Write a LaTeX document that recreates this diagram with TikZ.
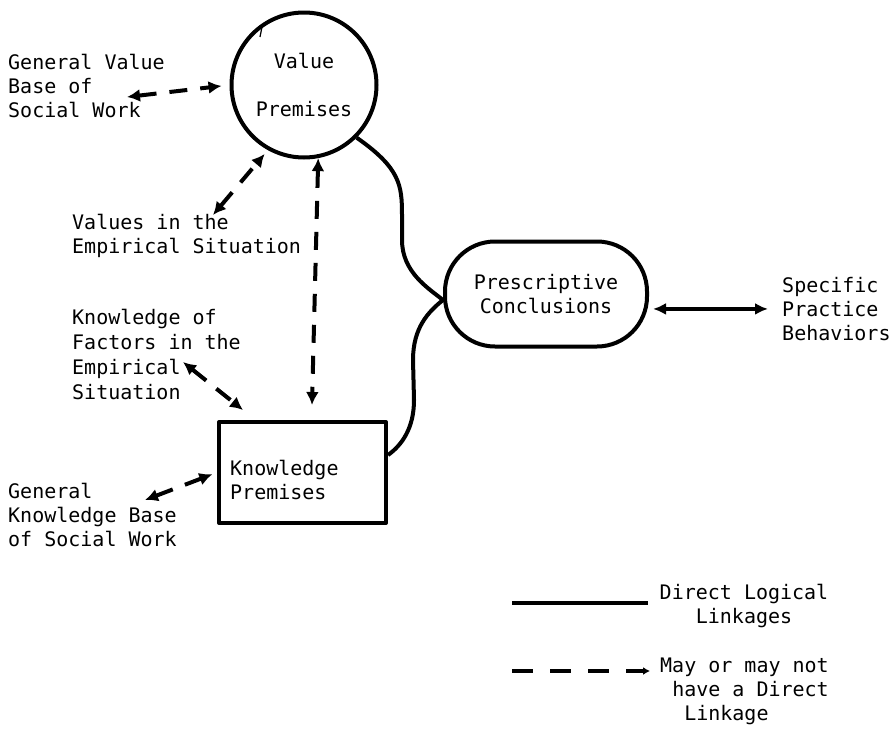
\documentclass[tikz,border=0pt]{standalone}
\usepackage{fontspec}
\setmainfont{DejaVu Sans Mono}
\usetikzlibrary{arrows.meta}

\tikzset{
  label text/.style={anchor=north west, inner sep=0pt, align=left},
  premise/.style={draw, line width=4pt},
  direct/.style={line width=4pt},
  maybe/.style={line width=4pt, dash pattern=on 18pt off 13pt,
    {Latex[length=13pt,width=13pt]}-{Latex[length=13pt,width=13pt]}},
}

\begin{document}
\begin{tikzpicture}[x=1pt, y=-1pt, font=\fontsize{20}{24}\selectfont, line join=round]
    \useasboundingbox (0,0) rectangle (891,728);

    % Premises and conclusions
    \node[premise, circle, minimum size=145pt, align=center] (vp) at (304,85) {Value\\[24pt]Premises};
    \draw[line width=1.2pt] (262,27) -- (260,37);
    \node[premise, minimum width=167pt, minimum height=101pt, anchor=north west] (kp) at (217,420) {};
    \node[label text] (kpt) at (230,460) {Knowledge\\Premises};
    \node[premise, rounded corners=50pt, minimum width=202pt, minimum height=105pt, align=center] (pc) at (546,294) {Prescriptive\\Conclusions};

    % Side labels
    \node[label text] (gvb) at (8,54) {General Value\\Base of\\Social Work};
    \node[label text] (vies) at (72,214) {Values in the\\Empirical Situation};
    \node[label text, font=\fontsize{20}{25}\selectfont] (kof) at (72,309) {Knowledge of\\Factors in the\\Empirical\\Situation};
    \node[label text] (gkb) at (8,483) {General\\Knowledge Base\\of Social Work};
    \node[label text] (spb) at (782,277) {Specific\\Practice\\Behaviors};

    % Dashed links
    \coordinate (gvb-end) at (127,97);
    \draw[maybe, shorten >=8pt] (gvb-end) -- (vp.west);
    \coordinate (vies-end) at (213,215);
    \draw[maybe, shorten >=5pt] (vies-end) -- (vp.-119);
    \coordinate (kp-top) at (312,405);
    \draw[maybe] (vp.-79) -- (kp-top);
    \coordinate (kof-end) at (183,362);
    \draw[maybe] (kof-end) -- ([xshift=26pt,yshift=10pt]kp.north west);
    \coordinate (gkb-end) at (145,500);
    \draw[maybe, shorten >=5pt] (gkb-end) -- (kp.west);

    % Direct links
    \draw[direct] (vp.-45) .. controls (400,168) and (402,185) .. (402,215) -- (402,240)
        .. controls (402,272) and (428,288) .. ([yshift=-6pt]pc.west);
    \draw[direct] ([yshift=-6pt]pc.west) .. controls (428,312) and (413,328) .. (413,360) -- (414,400)
        .. controls (414,428) and (402,445) .. ([yshift=-35pt]kp.north east);
    \draw[direct, line width=3.5pt, {Latex[length=13pt,width=12pt]}-{Latex[length=13pt,width=12pt]},
        shorten <=4pt, shorten >=14pt] (spb.west -| pc.east) -- (spb.west);

    % Key
    \coordinate (key-solid) at (512,603);
    \draw[direct, line width=4.5pt] (key-solid) -- ++(136,0);
    \node[label text, align=center, anchor=north] (key1) at (744,584) {Direct Logical\\Linkages};
    \coordinate (key-dash) at (512,671);
    \draw[line width=4pt, dash pattern=on 21pt off 17pt, -{Latex[length=7pt,width=8pt]}] (key-dash) -- ++(138,0);
    \node[label text] (key2) at (660,658) {May or may not\\\hphantom{x}have a Direct\\\hphantom{xx}Linkage};
\end{tikzpicture}
\end{document}
